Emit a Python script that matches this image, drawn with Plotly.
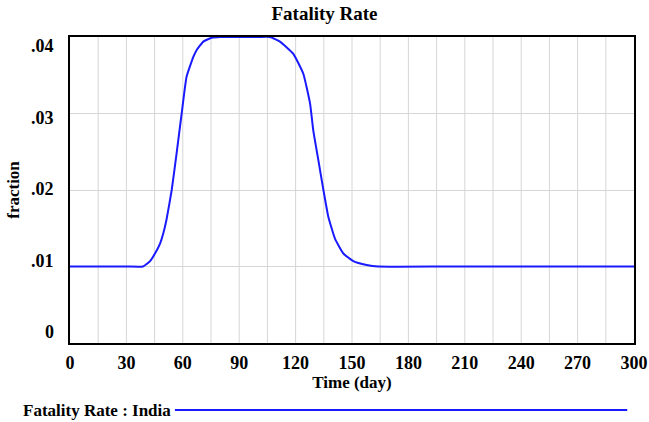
import plotly.graph_objects as go

days = [0, 30, 38.8, 42.6, 45.2, 47.9, 49.6, 51.4, 54.1, 56.7, 59.4, 62.0, 65.6, 67.4, 70.9, 75.4, 80,
        100, 106.4, 111.7, 118.8, 124.1, 127.7, 129.4, 132.1, 134.8, 137.4, 141, 145.4,
        150.7, 157.8, 164, 200, 250, 300]
fatality_rate = [0.01, 0.01, 0.01, 0.0107, 0.0117, 0.0130, 0.0143, 0.0162, 0.02, 0.0248, 0.03, 0.0348,
                 0.0374, 0.0383, 0.0394, 0.0399, 0.04,
                 0.04, 0.04, 0.0394, 0.0378, 0.0352, 0.0313, 0.0278, 0.0239, 0.02, 0.0165,
                 0.0136, 0.0117, 0.0107, 0.0102, 0.01, 0.01, 0.01, 0.01]

x_ticks = list(range(0, 301, 30))
x_grid = list(range(0, 301, 15))
y_ticks = [0, 0.01, 0.02, 0.03, 0.04]
y_tick_labels = ["0", ".01", ".02", ".03", ".04"]

FONT = "Liberation Serif, Times New Roman, serif"
BLUE = "#1a1aff"
GRID = "#d6d6d6"

fig = go.Figure()
fig.add_trace(go.Scatter(x=days, y=fatality_rate, mode="lines",
                         line=dict(color=BLUE, width=2, shape="spline", smoothing=0.4),
                         showlegend=False, name="Fatality Rate : India", hoverinfo="skip"))

fig.update_layout(
    width=649, height=422,
    margin=dict(l=70, r=15, t=37, b=79),
    paper_bgcolor="white", plot_bgcolor="white",
    title=dict(text="<b>Fatality Rate</b>", x=0.5, xanchor="center", y=0.968, yanchor="middle",
               font=dict(family=FONT, size=19, color="black")),
    font=dict(family=FONT, color="black"),
)
fig.update_xaxes(
    range=[0, 300], tickvals=x_ticks, ticktext=[f"<b>{v}</b>" for v in x_ticks],
    tickfont=dict(family=FONT, size=18, color="black"),
    showgrid=False, zeroline=False, showline=True, linewidth=2, linecolor="black", mirror=True,
    ticks="", ticklabelstandoff=2, automargin=False,
    title=dict(text="<b>Time (day)</b>", font=dict(family=FONT, size=17, color="black"), standoff=2),
)
fig.update_yaxes(
    range=[0, 0.04], tickvals=y_ticks, showticklabels=False,
    showgrid=True, gridcolor=GRID, gridwidth=1, zeroline=False,
    showline=True, linewidth=2, linecolor="black", mirror=True,
    ticks="", automargin=False,
    title=dict(text="<b>fraction</b>", font=dict(family=FONT, size=17, color="black"), standoff=44),
)

# y tick labels, placed Vensim-style (label column slightly compressed vs. grid)
for v, t in zip(y_ticks, y_tick_labels):
    fig.add_annotation(text=f"<b>{t}</b>", xref="paper", yref="y", x=0, y=v,
                       xanchor="right", yanchor="middle", xshift=-14,
                       yshift=-(9 - (0.04 - v) / 0.04 * 20),
                       showarrow=False, font=dict(family=FONT, size=18, color="black"))

# vertical grid lines every 15 days
for g in x_grid[1:-1]:
    fig.add_shape(type="line", xref="x", yref="paper", x0=g, x1=g, y0=0, y1=1,
                  line=dict(color=GRID, width=1), layer="below")

# legend row
fig.add_annotation(text="<b>Fatality Rate : India</b>", xref="paper", yref="paper",
                   x=-0.087, y=-0.219, xanchor="left", yanchor="middle", showarrow=False,
                   font=dict(family=FONT, size=17, color="black"))
fig.add_shape(type="line", xref="paper", yref="paper", x0=0.186, x1=0.988, y0=-0.219, y1=-0.219,
              line=dict(color=BLUE, width=2))

fig.write_html("out.html", config={"displayModeBar": False},
               post_script="document.body.style.margin='0';document.body.style.overflow='hidden';")
